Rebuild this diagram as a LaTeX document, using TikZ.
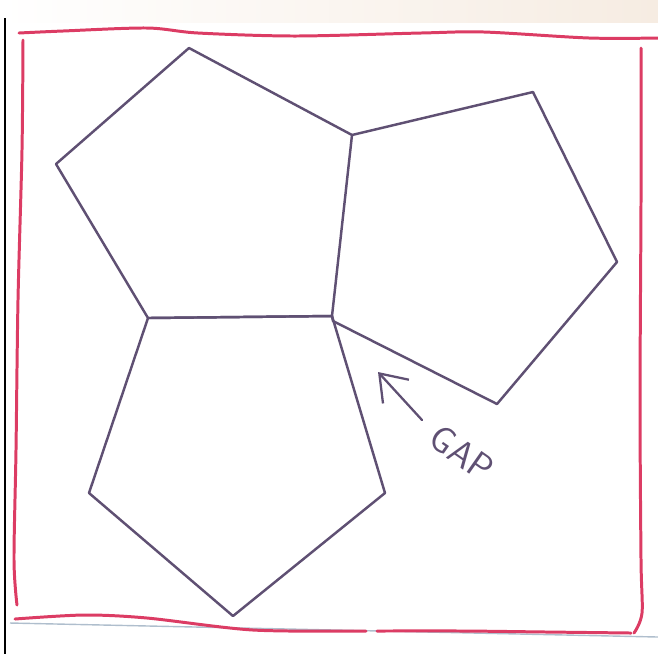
\documentclass[tikz,border=0pt]{standalone}
\usepackage{tikz}
\usetikzlibrary{arrows.meta}
\usepackage{xcolor}
\definecolor{penred}{RGB}{220,60,100}
\definecolor{penpurple}{RGB}{95,80,115}
\definecolor{papergrey}{RGB}{175,190,205}
\definecolor{paperbeige}{RGB}{246,236,226}

\begin{document}
\begin{tikzpicture}[x=0.02cm,y=-0.02cm]
        \useasboundingbox (0,0) rectangle (658,654);
        % Paper edges
        \shade[left color=white,right color=paperbeige] (0,0) rectangle (658,22);
        \draw[black,line width=0.9pt] (5,18) -- (5,654);
        \draw[papergrey,line width=0.8pt] (10,623) -- (658,637);
        % Red frame
        \draw[penred,line width=1.7pt,line cap=round] plot[smooth] coordinates
          {(19,33) (63,31) (147,28) (198,33) (295,36) (421,33) (484,32) (589,38) (658,38)};
        \draw[penred,line width=1.7pt,line cap=round] plot[smooth] coordinates
          {(23,40) (22,150) (18,300) (16,450) (14,560) (17,605)};
        \draw[penred,line width=1.7pt,line cap=round] plot[smooth] coordinates
          {(15,619) (84,615) (147,618) (253,630) (366,631)};
        \draw[penred,line width=1.7pt,line cap=round] plot[smooth] coordinates
          {(377,631) (463,631) (547,632) (631,633)};
        \draw[penred,line width=1.7pt,line cap=round] plot[smooth] coordinates
          {(641,48) (641,200) (640,400) (641,560) (642,613) (634,633)};
        % Corners of the pentagons
        \coordinate (ptop)   at (189,48);
        \coordinate (pjoin)  at (352,135);
        \coordinate (phub)   at (332,316);
        \coordinate (pleft)  at (148,318);
        \coordinate (pfar)   at (56,164);
        \coordinate (qtop)   at (533,92);
        \coordinate (qright) at (617,262);
        \coordinate (qlow)   at (497,404);
        \coordinate (qhub)   at (333,321);
        \coordinate (rright) at (385,493);
        \coordinate (rlow)   at (233,616);
        \coordinate (rleft)  at (89,493);
        % Pentagons
        \draw[penpurple,line width=1.4pt,line join=round]
          (ptop) -- (pjoin) -- (phub) -- (pleft) -- (pfar) -- cycle;
        \draw[penpurple,line width=1.4pt,line join=round]
          (pjoin) -- (qtop) -- (qright) -- (qlow) -- (qhub) -- (phub);
        \draw[penpurple,line width=1.4pt,line join=round]
          (pleft) -- (phub) -- (rright) -- (rlow) -- (rleft) -- cycle;
        % Gap annotation
        \coordinate (gaptail) at (422,420);
        \coordinate (gaptip)  at (378,372);
        \draw[penpurple,line width=1.3pt,line cap=round,
          -{Straight Barb[length=14pt,width=20pt]}] (gaptail) -- (gaptip);
        \node[penpurple,rotate=-35,font=\sffamily\fontsize{21}{25}\selectfont]
          (gaplabel) at (462,453) {GAP};
\end{tikzpicture}
\end{document}
